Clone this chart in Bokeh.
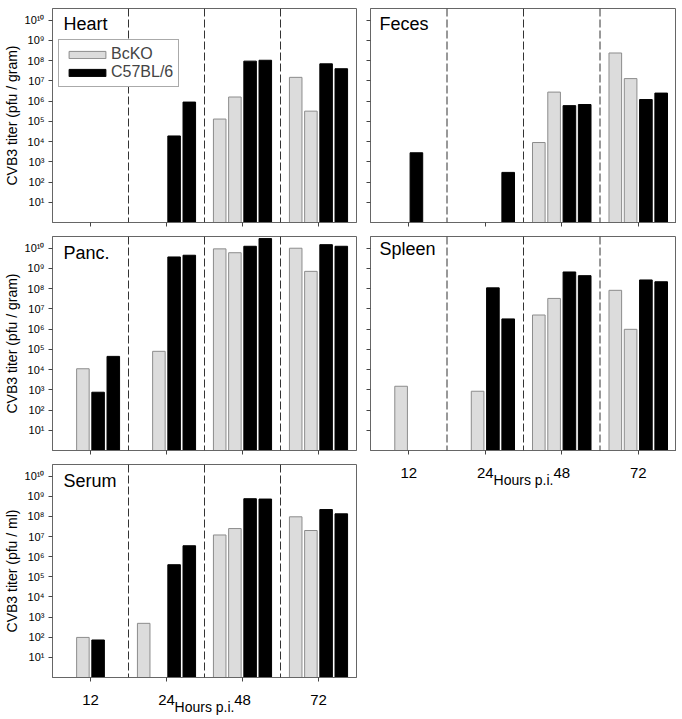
from bokeh.plotting import figure
from bokeh.models import (Range1d, FixedTicker, CustomJSTickFormatter, Span,
                          Legend, LegendItem, Label)
from bokeh.layouts import row, column
from bokeh.embed import file_html
from bokeh.resources import INLINE

# ---------------- data ----------------
hours = ["12", "24", "48", "72"]
x_label = "Hours p.i."
y_ticks = [10 ** k for k in range(1, 11)]
y_tick_labels = ["10\u00b9", "10\u00b2", "10\u00b3", "10\u2074", "10\u2075",
                 "10\u2076", "10\u2077", "10\u2078", "10\u2079", "10\u00b9\u2070"]
series_names = ["BcKO", "C57BL/6"]

# two mice per strain and time point; 0 = not detected
heart_bcko_1 = [0, 0, 1.3e5, 1.5e7]
heart_bcko_2 = [0, 0, 1.6e6, 3.2e5]
heart_b6_1 = [0, 1.9e4, 9.5e7, 7.0e7]
heart_b6_2 = [0, 9.0e5, 1.05e8, 4.0e7]

feces_bcko_1 = [0, 0, 9.0e3, 2.4e8]
feces_bcko_2 = [0, 0, 2.8e6, 1.3e7]
feces_b6_1 = [2.8e3, 0, 6.0e5, 1.2e6]
feces_b6_2 = [0, 3.0e2, 6.8e5, 2.5e6]

panc_bcko_1 = [0, 0, 9.3e9, 1.0e10]
panc_bcko_2 = [1.1e4, 8.0e4, 6.0e9, 7.2e8]
panc_b6_1 = [7.6e2, 3.7e9, 1.25e10, 1.5e10]
panc_b6_2 = [4.5e4, 4.5e9, 3.0e10, 1.25e10]

spleen_bcko_1 = [0, 0, 5.0e6, 8.3e7]
spleen_bcko_2 = [1.5e3, 8.5e2, 3.3e7, 9.8e5]
spleen_b6_1 = [0, 1.1e8, 6.7e8, 2.7e8]
spleen_b6_2 = [0, 3.2e6, 4.4e8, 2.2e8]

serum_bcko_1 = [0, 4.9e2, 1.2e7, 9.6e7]
serum_bcko_2 = [9.8e1, 0, 2.5e7, 2.0e7]
serum_b6_1 = [7.3e1, 4.0e5, 7.6e8, 2.2e8]
serum_b6_2 = [0, 3.5e6, 7.3e8, 1.35e8]

# ---------------- style ----------------
FONT = "Liberation Sans"
LIGHT = "#dcdcdc"
LIGHT_LINE = "#8c8c8c"
FRAME = "#666666"
Y_MIN, Y_MAX_EXP = 1, 10.58
BAR_OFFSETS = [-0.3, -0.1, 0.1, 0.3]
BAR_W = 0.165


def make_panel(name, b1, b2, c1, c2, ylabel=None, xlabels=False,
               legend=False, left=52, right=4, top=0, bottom=14,
               frame_w=304, frame_h=214, title_dx=11, title_dy=15):
    p = figure(frame_width=frame_w, frame_height=frame_h,
               x_range=Range1d(0.5, 4.5),
               y_range=Range1d(Y_MIN, 10 ** Y_MAX_EXP),
               y_axis_type="log", output_backend="svg",
               toolbar_location=None,
               min_border_left=left, min_border_right=right,
               min_border_top=top, min_border_bottom=bottom)
    p.background_fill_color = "white"
    p.border_fill_color = "white"
    p.outline_line_color = FRAME
    p.outline_line_width = 1
    p.xgrid.visible = False
    p.ygrid.visible = False

    idx = list(range(1, len(hours) + 1))
    lx = [i + BAR_OFFSETS[0] for i in idx] + [i + BAR_OFFSETS[1] for i in idx]
    lt = [max(v, Y_MIN) for v in b1 + b2]
    bx = [i + BAR_OFFSETS[2] for i in idx] + [i + BAR_OFFSETS[3] for i in idx]
    bt = [max(v, Y_MIN) for v in c1 + c2]

    r_light = p.vbar(x=lx, top=lt, bottom=Y_MIN, width=BAR_W,
                     fill_color=LIGHT, line_color=LIGHT_LINE, line_width=1)
    r_black = p.vbar(x=bx, top=bt, bottom=Y_MIN, width=BAR_W,
                     fill_color="black", line_color="black", line_width=1)

    for b in [1.5, 2.5, 3.5]:
        p.add_layout(Span(location=b, dimension="height", line_color="#333333",
                          line_width=1, line_dash="8 3"))

    for ax in (p.xaxis[0], p.yaxis[0]):
        ax.axis_line_color = FRAME
        ax.major_tick_line_color = "#444444"
        ax.major_tick_out = 4
        ax.major_tick_in = 0
        ax.minor_tick_line_color = None
        ax.major_label_text_font = FONT
        ax.axis_label_text_font = FONT
        ax.axis_label_text_font_style = "normal"
        ax.major_label_text_color = "black"
        ax.axis_label_text_color = "black"

    p.xaxis.ticker = FixedTicker(ticks=idx)
    p.xaxis.major_label_overrides = {i: h for i, h in zip(idx, hours)}
    if xlabels:
        p.xaxis.major_label_text_font_size = "15px"
        p.xaxis.major_label_standoff = 13
        p.xaxis.axis_label = x_label
        p.xaxis.axis_label_text_font_size = "14px"
        p.xaxis.axis_label_standoff = -9
    else:
        p.xaxis.major_label_text_font_size = "1px"
        p.xaxis.major_label_text_color = None
        p.xaxis.major_label_standoff = 0

    p.yaxis.ticker = FixedTicker(ticks=y_ticks)
    p.yaxis.formatter = CustomJSTickFormatter(
        args=dict(tvals=y_ticks, tlabels=y_tick_labels),
        code="""
        for (let i = 0; i < tvals.length; i++) {
            if (Math.abs(Math.log10(tvals[i]) - Math.log10(tick)) < 1e-6) return tlabels[i];
        }
        return '';
        """)
    if ylabel:
        p.yaxis.major_label_text_font_size = "11px"
        p.yaxis.major_label_standoff = 4
        p.yaxis.axis_label = ylabel
        p.yaxis.axis_label_text_font_size = "14px"
        p.yaxis.axis_label_standoff = 2
    else:
        p.yaxis.major_label_text_font_size = "1px"
        p.yaxis.major_label_text_color = None
        p.yaxis.major_label_standoff = 0

    px_per_unit = frame_w / 4.0
    px_per_dec = frame_h / Y_MAX_EXP
    p.add_layout(Label(x=0.5 + title_dx / px_per_unit,
                       y=10 ** (Y_MAX_EXP - title_dy / px_per_dec),
                       text=name, text_font=FONT, text_font_size="18px",
                       text_baseline="alphabetic", text_align="left",
                       text_color="black"))

    if legend:
        lg = Legend(items=[LegendItem(label=series_names[0], renderers=[r_light]),
                           LegendItem(label=series_names[1], renderers=[r_black])],
                    location=(6, 135), margin=0, padding=5, spacing=0,
                    glyph_width=46, glyph_height=9, label_height=16,
                    label_standoff=1, label_text_font=FONT,
                    border_line_color="#555555", border_line_width=1,
                    background_fill_color="white", background_fill_alpha=1)
        lg.label_text_font_size = "16px"
        p.add_layout(lg)
    return p


heart = make_panel("Heart", heart_bcko_1, heart_bcko_2, heart_b6_1, heart_b6_2,
                   ylabel="CVB3 titer (pfu / gram)", legend=True, top=8,
                   title_dy=15)
panc = make_panel("Panc.", panc_bcko_1, panc_bcko_2, panc_b6_1, panc_b6_2,
                  ylabel="CVB3 titer (pfu / gram)", title_dy=16)
serum = make_panel("Serum", serum_bcko_1, serum_bcko_2, serum_b6_1, serum_b6_2,
                   ylabel="CVB3 titer (pfu / ml)", xlabels=True, bottom=40,
                   frame_h=213, title_dy=16)
feces = make_panel("Feces", feces_bcko_1, feces_bcko_2, feces_b6_1, feces_b6_2,
                   left=10, right=0, top=8, frame_w=306, title_dx=9, title_dy=15)
spleen = make_panel("Spleen", spleen_bcko_1, spleen_bcko_2, spleen_b6_1, spleen_b6_2,
                    xlabels=True, left=10, right=0, bottom=40, frame_w=306,
                    title_dx=9, title_dy=12)

layout = row(column(heart, panc, serum), column(feces, spleen))
open("out.html", "w").write(file_html(layout, INLINE))
